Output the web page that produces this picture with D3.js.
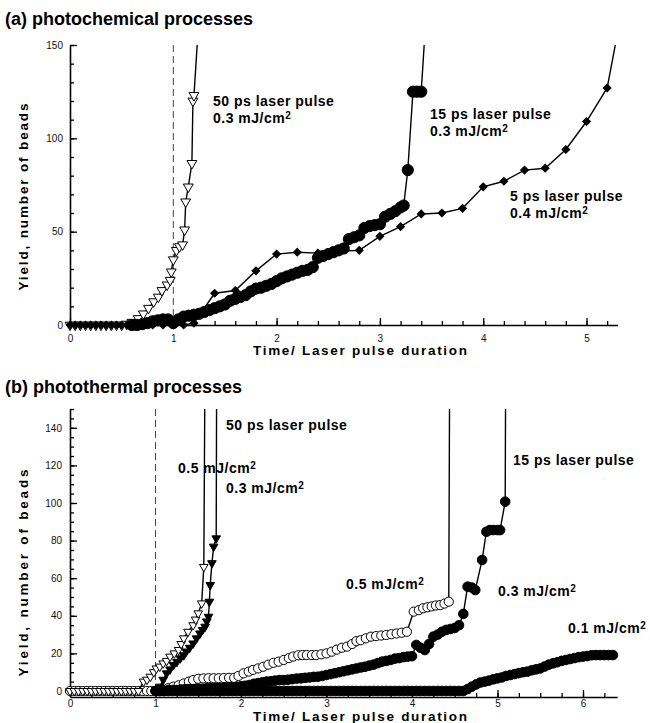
<!DOCTYPE html>
<html>
<head>
<meta charset="utf-8">
<script src="https://cdn.jsdelivr.net/npm/d3@7"></script>
<style>
  body { margin: 0; background: #fff; }
  svg { display: block; }
</style>
</head>
<body>
<script>
// (a) photochemical processes -- [time / pulse duration, yield]
var photochem_50ps = [
  [0,0],[0.05,0],[0.1,0],[0.15,0],[0.2,0],[0.25,0],[0.3,0],[0.35,0],[0.4,0],[0.45,0],[0.5,0],
  [0.55,0.5],[0.6,1.5],[0.66,3.5],[0.71,6],[0.76,9],[0.81,12.5],[0.855,15],[0.89,18.5],[0.94,21.5],
  [0.97,24],[0.98,28.5],[1.0,35],[1.03,40],[1.06,42],[1.09,43],[1.11,51],[1.12,66],[1.145,74],
  [1.18,86.6],[1.19,120],[1.2,123],[1.245,162]
];
var photochem_15ps = [
  [0.6,0],[0.65,0],[0.7,0.5],[0.75,1],[0.8,2],[0.85,2.5],[0.9,3],[0.95,3],[1.0,1],[1.05,3],[1.1,4.5],
  [1.15,5],[1.2,5.5],[1.25,6],[1.3,7],[1.35,8],[1.4,9],[1.45,10],[1.5,11],[1.55,13],[1.6,14],[1.65,15],
  [1.7,16],[1.75,18],[1.8,19.5],[1.85,20],[1.9,21],[1.95,22],[2.0,23.5],[2.05,25],[2.1,26],[2.15,27],
  [2.2,28],[2.25,29],[2.3,29.5],[2.35,31],[2.4,36],[2.45,37],[2.5,38],[2.55,39],[2.6,40],[2.65,41],
  [2.7,46],[2.75,47],[2.8,48],[2.85,52],[2.9,53],[2.95,53.5],[3.0,54],[3.05,58],[3.1,59.5],[3.15,61],
  [3.2,63],[3.23,64],[3.27,83],[3.32,125],[3.36,125],[3.4,125],[3.44,160]
];
var photochem_5ps = [
  [0,0],[0.05,0],[0.1,0],[0.15,0],[0.2,0],[0.25,0],[0.3,0],[0.35,0],[0.4,0],[0.45,0],[0.5,0],[0.55,0],
  [0.6,0],[0.7,0],[0.8,0],[0.9,0],[1.0,0],[1.1,0],[1.2,1],
  [1.4,17],[1.6,18.5],[1.8,29],[2.0,38],[2.2,39],[2.4,38.5],[2.6,39.5],[2.8,40],[3.0,47.5],[3.2,52.7],
  [3.4,59.5],[3.6,60],[3.8,62.5],[4.0,74],[4.2,77],[4.4,83],[4.6,84],[4.8,94],[5.0,109],[5.2,127],[5.33,165]
];

// (b) photothermal processes
var photothermal_50ps_05 = [
  [0,0],[0.05,0],[0.1,0],[0.15,0],[0.2,0],[0.25,0],[0.3,0],[0.35,0],[0.4,0],[0.45,0],[0.5,0],[0.55,0],
  [0.6,0],[0.65,0],[0.7,0],[0.75,0],[0.8,0],
  [0.86,5],[0.9,6],[0.94,7.6],[0.98,10],[1.01,12],[1.05,13],[1.09,14.7],[1.13,16],[1.17,18.3],[1.22,20],
  [1.27,21.8],[1.3,25],[1.33,28],[1.38,31.5],[1.44,35],[1.47,38],[1.5,41.3],[1.54,46.6],[1.565,66],[1.578,165]
];
var photothermal_50ps_03 = [
  [1.0,0.5],[1.05,2.3],[1.09,6],[1.13,9.4],[1.17,11.5],[1.21,13.8],[1.25,15.5],[1.29,17.4],[1.33,19],
  [1.36,21],[1.4,23],[1.44,25.3],[1.48,28],[1.52,30.6],[1.55,32.5],[1.58,34.2],[1.6,37],[1.62,39.5],
  [1.63,47.5],[1.64,56.4],[1.66,68],[1.68,76.8],[1.71,81.2],[1.715,165]
];
var photothermal_15ps_05 = [
  [0,0],[0.05,0],[0.1,0],[0.15,0],[0.2,0],[0.25,0],[0.3,0],[0.35,0],[0.4,0],[0.45,0],[0.5,0],[0.55,0],
  [0.6,0],[0.65,0],[0.7,0],[0.75,0],[0.8,0],[0.85,0],[0.9,0],[0.95,0],[1.0,0],[1.05,0],
  [1.09,0.5],[1.15,1.5],[1.21,2.3],[1.27,3],[1.33,4],[1.39,5],[1.44,5.8],[1.5,6.5],[1.56,6.7],[1.62,6.8],
  [1.68,6.8],[1.74,6.8],[1.8,6.9],[1.86,7],[1.92,7],[1.97,8],[2.03,9.4],[2.09,10.3],[2.14,11.2],[2.2,12],
  [2.26,12.9],[2.32,14],[2.38,15],[2.44,15.6],[2.5,16.5],[2.56,17.5],[2.61,18.3],[2.67,19],[2.72,19.1],
  [2.77,19.1],[2.83,19.1],[2.88,19.1],[2.94,19.5],[3.0,20],[3.06,20.9],[3.12,22],[3.18,23],[3.24,23.6],
  [3.3,25],[3.35,26.5],[3.4,27],[3.46,28],[3.52,28.9],[3.58,29.2],[3.64,29.5],[3.7,29.8],[3.76,30.2],
  [3.82,30.6],[3.88,31],[3.94,31.5],[4.02,42.2],[4.08,43],[4.13,44],[4.18,44.5],[4.23,45],[4.28,45.5],
  [4.33,45.7],[4.38,46.5],[4.43,47.5],[4.44,165]
];
var photothermal_15ps_03 = [
  [1.05,0],[1.1,0],[1.15,0.5],[1.2,0.5],[1.25,0.5],[1.3,0.8],[1.35,1],[1.4,1],[1.45,1],[1.5,1.2],[1.55,1.2],
  [1.6,1.4],[1.65,1.5],[1.7,1.5],[1.75,1.6],[1.8,1.8],[1.85,2],[1.9,2],[1.95,2.2],[2.0,2.5],[2.05,2.8],
  [2.1,3.2],[2.15,3.8],[2.2,4.2],[2.25,4.6],[2.3,5],[2.35,5.2],[2.4,5.5],[2.45,5.8],[2.5,5.8],[2.55,6],
  [2.6,6.3],[2.65,6.6],[2.7,6.7],[2.75,7],[2.8,7.2],[2.85,7.5],[2.9,7.6],[2.95,8],[3.0,8.5],[3.05,9],
  [3.1,9.5],[3.15,10],[3.2,10.5],[3.25,11],[3.3,11.5],[3.35,12],[3.4,12.5],[3.45,12.9],[3.5,13.5],
  [3.55,14],[3.6,14.8],[3.65,15.6],[3.7,16],[3.75,16.5],[3.8,17.2],[3.85,17.5],[3.9,18],[3.95,18.3],
  [4.0,18.5],[4.05,24.5],[4.1,23],[4.15,21.8],[4.2,25],[4.25,28.9],[4.3,30],[4.35,31.5],[4.4,32.5],
  [4.45,33],[4.5,33.5],[4.55,35],[4.6,41],[4.65,55.5],[4.7,55],[4.74,53.7],[4.82,69.7],[4.87,84.7],
  [4.91,85.6],[4.95,85.6],[5.0,85.6],[5.03,85.6],[5.09,100.7],[5.095,165]
];
var photothermal_15ps_01 = [
  [1.0,0],[1.05,0],[1.1,0],[1.15,0],[1.2,0],[1.25,0],[1.3,0],[1.35,0],[1.4,0],[1.45,0],[1.5,0],[1.55,0],
  [1.6,0],[1.65,0],[1.7,0],[1.75,0],[1.8,0],[1.85,0],[1.9,0],[1.95,0],[2.0,0],[2.05,0],[2.1,0],[2.15,0],
  [2.2,0],[2.25,0],[2.3,0],[2.35,0],[2.4,0],[2.45,0],[2.5,0],[2.55,0],[2.6,0],[2.65,0],[2.7,0],[2.75,0],
  [2.8,0],[2.85,0],[2.9,0],[2.95,0],[3.0,0],[3.05,0],[3.1,0],[3.15,0],[3.2,0],[3.25,0],[3.3,0],[3.35,0],
  [3.4,0],[3.45,0],[3.5,0],[3.55,0],[3.6,0],[3.65,0],[3.7,0],[3.75,0],[3.8,0],[3.85,0],[3.9,0],[3.95,0],
  [4.0,0],[4.05,0],[4.1,0],[4.15,0],[4.2,0],[4.25,0],[4.3,0],[4.35,0],[4.4,0],[4.45,0],[4.5,0],[4.55,0],
  [4.6,0],[4.65,1],[4.7,2.3],[4.75,3.5],[4.8,4.5],[4.85,5],[4.9,5.5],[4.95,6.2],[5.0,6.7],[5.05,7.2],
  [5.1,8],[5.15,8.5],[5.2,9],[5.25,9.5],[5.3,10],[5.35,10.3],[5.4,11],[5.45,11.5],[5.5,12],[5.55,13],
  [5.6,14],[5.65,14.7],[5.7,15.3],[5.75,16],[5.8,16.5],[5.85,17],[5.9,17.5],[5.95,18],[6.0,18.3],
  [6.05,18.6],[6.1,19],[6.15,19.1],[6.2,19.1],[6.25,19.1],[6.3,19.1],[6.35,19.1]
];

// tick labels
var a_xTicks = [0, 1, 2, 3, 4, 5],
    a_yTicks = [0, 50, 100, 150],
    b_xTicks = [0, 1, 2, 3, 4, 5, 6],
    b_yTicks = [0, 20, 40, 60, 80, 100, 120, 140];

var font = "'Liberation Sans', Arial, sans-serif";

var svg = d3.select("body").append("svg")
    .attr("width", 650)
    .attr("height", 723);

function note(x, y, text, sup) {
  var t = svg.append("text")
      .attr("x", x)
      .attr("y", y)
      .style("font-family", font)
      .style("font-weight", "bold")
      .style("font-size", "14px")
      .style("letter-spacing", "0.5px")
      .text(text);
  if (sup) {
    t.append("tspan")
      .attr("dy", "-0.42em")
      .style("font-size", "10px")
      .text(sup);
  }
}

function panel(p) {
  var x = d3.scaleLinear().domain(p.xDomain).range([70, p.right]),
      y = d3.scaleLinear().domain(p.yDomain).range([p.bottom, p.top]);

  var g = svg.append("g");

  // x-axis
  g.append("g")
      .attr("transform", "translate(0," + p.bottom + ")")
      .call(d3.axisBottom(x).tickValues(p.xTicks).tickSize(-7).tickSizeOuter(0)
        .tickPadding(p.xPad).tickFormat(d3.format("d")));
  g.append("g")
      .attr("transform", "translate(0," + p.bottom + ")")
      .call(d3.axisBottom(x).tickValues(p.xMinor).tickSize(-4).tickFormat(""))
    .select(".domain").remove();

  // y-axis
  g.append("g")
      .attr("transform", "translate(70,0)")
      .call(d3.axisLeft(y).tickValues(p.yTicks).tickSize(-7).tickSizeOuter(0)
        .tickPadding(p.yPad).tickFormat(d3.format("d")));
  g.append("g")
      .attr("transform", "translate(70,0)")
      .call(d3.axisLeft(y).tickValues(p.yMinor).tickSize(-4).tickFormat(""))
    .select(".domain").remove();

  g.selectAll(".domain").attr("stroke-width", 1.6);
  g.selectAll(".tick line").attr("stroke-width", 1.3);
  g.selectAll(".tick text")
      .attr("font-family", font)
      .attr("font-size", 10)
      .attr("fill", "#111");

  // dashed marker at one pulse duration
  g.append("line")
      .attr("x1", x(1)).attr("x2", x(1))
      .attr("y1", p.top).attr("y2", p.bottom)
      .attr("stroke", "#444")
      .attr("stroke-width", 1)
      .attr("stroke-dasharray", "7,4");

  var clipId = "clip" + p.name;
  svg.append("clipPath").attr("id", clipId)
    .append("rect")
      .attr("x", 55).attr("y", y(150))
      .attr("width", p.right - 40).attr("height", p.bottom - y(150) + 20);

  var plot = g.append("g").attr("clip-path", "url(#" + clipId + ")");
  var line = d3.line().x(function(d) { return x(d[0]); }).y(function(d) { return y(d[1]); });

  p.series.forEach(function(s) {
    plot.append("path")
        .datum(s.data)
        .attr("d", line)
        .attr("fill", "none")
        .attr("stroke", "#000")
        .attr("stroke-width", 1.4);

    var sym = null, rot = 0;
    if (s.shape == "tri") { sym = d3.symbol(d3.symbolTriangle, s.size); rot = 180; }
    if (s.shape == "diamond") { sym = d3.symbol(d3.symbolSquare, s.size); rot = 45; }

    var m = plot.append("g").selectAll("path")
        .data(s.data)
      .enter();
    if (sym) {
      m.append("path")
          .attr("d", sym)
          .attr("transform", function(d) {
            return "translate(" + x(d[0]) + "," + y(d[1]) + ") rotate(" + rot + ")";
          })
          .attr("fill", s.open ? "#fff" : "#000")
          .attr("stroke", "#000")
          .attr("stroke-width", 1);
    } else {
      m.append("circle")
          .attr("cx", function(d) { return x(d[0]); })
          .attr("cy", function(d) { return y(d[1]); })
          .attr("r", s.size)
          .attr("fill", s.open ? "#fff" : "#000")
          .attr("stroke", "#000")
          .attr("stroke-width", 1);
    }
  });

  // titles
  svg.append("text")
      .attr("x", 5)
      .attr("y", p.titleY)
      .style("font-family", font)
      .style("font-weight", "bold")
      .style("font-size", "18px")
      .text(p.title);

  svg.append("text")
      .attr("x", 360)
      .attr("y", p.bottom + p.xLabelDy)
      .attr("text-anchor", "middle")
      .attr("textLength", 214)
      .attr("lengthAdjust", "spacing")
      .style("font-family", font)
      .style("font-weight", "bold")
      .style("font-size", "13.5px")
      .text("Time/ Laser pulse duration");

  svg.append("text")
      .attr("transform", "translate(28," + p.yLabelMid + ") rotate(-90)")
      .attr("text-anchor", "middle")
      .attr("textLength", p.yLabelLen)
      .attr("lengthAdjust", "spacing")
      .style("font-family", font)
      .style("font-weight", "bold")
      .style("font-size", "13.5px")
      .text("Yield, number of beads");
}

panel({
  name: "a",
  title: "(a) photochemical processes",
  titleY: 25,
  xDomain: [0, 5.3], right: 617.5,
  yDomain: [0, 150], bottom: 325, top: 45,
  xTicks: a_xTicks, xMinor: d3.range(0, 5.3, 0.2),
  yTicks: a_yTicks, yMinor: d3.range(0, 151, 10),
  xPad: 10, yPad: 7,
  xLabelDy: 30, yLabelMid: 197, yLabelLen: 187,
  series: [
    {data: photochem_50ps, shape: "tri", size: 42, open: true},
    {data: photochem_5ps, shape: "diamond", size: 30, open: false},
    {data: photochem_15ps, shape: "circle", size: 5.6, open: false}
  ]
});

panel({
  name: "b",
  title: "(b) photothermal processes",
  titleY: 393,
  xDomain: [0, 6.4], right: 617.2,
  yDomain: [-3.2, 150], bottom: 697, top: 409,
  xTicks: b_xTicks, xMinor: d3.range(0, 6.4, 0.25),
  yTicks: b_yTicks, yMinor: d3.range(0, 151, 5),
  xPad: 3, yPad: 8,
  xLabelDy: 24, yLabelMid: 573, yLabelLen: 207,
  series: [
    {data: photothermal_15ps_05, shape: "circle", size: 4.6, open: true},
    {data: photothermal_50ps_05, shape: "tri", size: 32, open: true},
    {data: photothermal_50ps_03, shape: "tri", size: 32, open: false},
    {data: photothermal_15ps_03, shape: "circle", size: 4.8, open: false},
    {data: photothermal_15ps_01, shape: "circle", size: 4.8, open: false}
  ]
});

// panel (a) annotations
note(213, 106, "50 ps laser pulse");
note(213, 123, "0.3 mJ/cm", "2");
note(430, 119, "15 ps laser pulse");
note(430, 136, "0.3 mJ/cm", "2");
note(510, 201, "5 ps laser pulse");
note(510, 218, "0.4 mJ/cm", "2");

// panel (b) annotations
note(226, 430, "50 ps laser pulse");
note(178, 473, "0.5 mJ/cm", "2");
note(226, 493, "0.3 mJ/cm", "2");
note(513, 465, "15 ps laser pulse");
note(346, 589, "0.5 mJ/cm", "2");
note(498, 596, "0.3 mJ/cm", "2");
note(568, 633, "0.1 mJ/cm", "2");
</script>
</body>
</html>
